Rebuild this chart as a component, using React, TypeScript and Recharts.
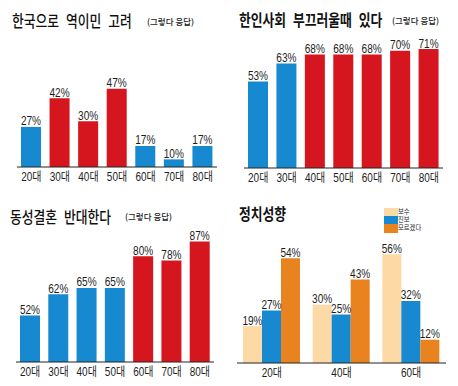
import React from 'react';
import { BarChart, Bar, XAxis, YAxis, Cell, LabelList } from 'recharts';

// ---- data ----
const ages = ['20대', '30대', '40대', '50대', '60대', '70대', '80대'];
const reverseMigration = [27, 42, 30, 47, 17, 10, 17];
const reverseMigrationHighlight = [false, true, true, true, false, false, false];
const ashamed = [53, 63, 68, 68, 68, 70, 71];
const ashamedHighlight = [false, false, true, true, true, true, true];
const sameSexOppose = [52, 62, 65, 65, 80, 78, 87];
const sameSexOpposeHighlight = [false, false, false, false, true, true, true];

const politicsAges = ['20대', '40대', '60대'];
const conservative = [19, 30, 56];
const progressive = [27, 25, 32];
const unsure = [54, 43, 12];

const titles = ['한국으로 역이민 고려', '한인사회 부끄러울때 있다', '동성결혼 반대한다', '정치성향'];
const subtitle = '(그렇다 응답)';
const legendNames = ['보수', '진보', '모르겠다'];

// ---- styles ----
const BLUE = '#1689d0';
const RED = '#d5161f';
const BEIGE = '#fdd9a6';
const ORANGE = '#e8831f';
const TEXT = '#1e1e1e';
const KFONT = '"Noto Sans CJK KR", "Noto Sans", sans-serif';
const NFONT = '"Liberation Sans", Arial, "Noto Sans CJK KR", sans-serif';

const W = 229;
const H = 193;

const AgeTick = (props: any) => {
  const { x, y, payload } = props;
  return (
    <g transform={`translate(${x},${y + 14}) scale(0.8,1)`}>
      <text x={0} y={0} textAnchor="middle" fontSize={12.5} fontFamily={NFONT} fill={TEXT}>
        {payload.value}
      </text>
    </g>
  );
};

const ValueLabel = (props: any) => {
  const { x, y, width, value } = props;
  const cx = Number(x) + Number(width) / 2;
  return (
    <g transform={`translate(${cx},${Number(y) - 1.5}) scale(0.84,1)`}>
      <text x={0} y={0} textAnchor="middle" fontSize={12} fontFamily={NFONT} fill={TEXT}>
        {`${value}%`}
      </text>
    </g>
  );
};

const simpleData = (vals: number[], hl: boolean[]) =>
  ages.map((age, i) => ({ age, value: vals[i], hl: hl[i] }));

const politicsData = politicsAges.map((age, i) => ({
  age,
  conservative: conservative[i],
  progressive: progressive[i],
  unsure: unsure[i],
}));

type SimpleProps = {
  vals: number[];
  hl: boolean[];
  margin: { top: number; right: number; bottom: number; left: number };
  domain: [number, number];
};

const SimpleChart = ({ vals, hl, margin, domain }: SimpleProps) => {
  const data = simpleData(vals, hl);
  return (
    <BarChart width={W} height={H} data={data} margin={margin} barSize={20}>
      <XAxis
        dataKey="age"
        interval={0}
        axisLine={{ stroke: '#222', strokeWidth: 1 }}
        tickLine={false}
        tickSize={0}
        tickMargin={0}
        height={20}
        tick={<AgeTick />}
      />
      <YAxis hide type="number" domain={domain} allowDataOverflow />
      <Bar dataKey="value" isAnimationActive={false}>
        {data.map((d, i) => (
          <Cell key={i} fill={d.hl ? RED : BLUE} />
        ))}
        <LabelList dataKey="value" content={<ValueLabel />} />
      </Bar>
    </BarChart>
  );
};

const Title = ({ text, left, top, weight }: { text: string; left: number; top: number; weight: number }) => (
  <div
    style={{
      position: 'absolute',
      left,
      top,
      fontFamily: KFONT,
      fontSize: 16,
      fontWeight: weight,
      lineHeight: '16px',
      color: '#111',
      whiteSpace: 'nowrap',
      wordSpacing: 5,
      transform: 'scaleX(0.8)',
      transformOrigin: 'left center',
    }}
  >
    {text}
  </div>
);

const Sub = ({ left, top }: { left: number; top: number }) => (
  <div
    style={{
      position: 'absolute',
      left,
      top,
      fontFamily: KFONT,
      fontSize: 8.5,
      fontWeight: 500,
      lineHeight: '9px',
      color: '#222',
      whiteSpace: 'nowrap',
    }}
  >
    {subtitle}
  </div>
);

export default function App() {
  const legendColors = [BEIGE, BLUE, ORANGE];
  return (
    <div
      style={{
        position: 'absolute',
        left: 0,
        top: 0,
        width: 458,
        height: 386,
        background: '#fff',
        overflow: 'hidden',
      }}
    >
      <div style={{ position: 'absolute', left: 0, top: 0 }}>
        <SimpleChart vals={reverseMigration} hl={reverseMigrationHighlight} margin={{ top: 60, right: 12, bottom: 6, left: 17 }} domain={[6, 62]} />
      </div>
      <div style={{ position: 'absolute', left: 229, top: 0 }}>
        <SimpleChart vals={ashamed} hl={ashamedHighlight} margin={{ top: 40, right: 15, bottom: 5, left: 15 }} domain={[5, 76]} />
      </div>
      <div style={{ position: 'absolute', left: 0, top: 193 }}>
        <SimpleChart vals={sameSexOppose} hl={sameSexOpposeHighlight} margin={{ top: 40, right: 15, bottom: 4, left: 16 }} domain={[30, 91]} />
      </div>
      <div style={{ position: 'absolute', left: 229, top: 193 }}>
        <BarChart width={W} height={H} data={politicsData} margin={{ top: 40, right: 12, bottom: 3, left: 8 }} barSize={19} barGap={0}>
          <XAxis
            dataKey="age"
            interval={0}
            axisLine={{ stroke: '#222', strokeWidth: 1 }}
            tickLine={false}
            tickSize={0}
            tickMargin={0}
            height={20}
            tick={<AgeTick />}
          />
          <YAxis hide type="number" domain={[0, 67]} allowDataOverflow />
          <Bar dataKey="conservative" fill={BEIGE} isAnimationActive={false}>
            <LabelList dataKey="conservative" content={<ValueLabel />} />
          </Bar>
          <Bar dataKey="progressive" fill={BLUE} isAnimationActive={false}>
            <LabelList dataKey="progressive" content={<ValueLabel />} />
          </Bar>
          <Bar dataKey="unsure" fill={ORANGE} isAnimationActive={false}>
            <LabelList dataKey="unsure" content={<ValueLabel />} />
          </Bar>
        </BarChart>
      </div>

      <Title text={titles[0]} left={12} top={12} weight={500} />
      <Sub left={147} top={17} />
      <Title text={titles[1]} left={239} top={11} weight={700} />
      <Sub left={392} top={16} />
      <Title text={titles[2]} left={10} top={208} weight={500} />
      <Sub left={125} top={212} />
      <Title text={titles[3]} left={239} top={205} weight={700} />

      {legendNames.map((name, i) => (
        <div key={name} style={{ position: 'absolute', left: 384, top: 208 + i * 8, height: 8 + (i === 2 ? 1 : 0) }}>
          <div style={{ position: 'absolute', left: 0, top: 0, width: 14, height: 8 + (i === 2 ? 1 : 0), background: legendColors[i] }} />
          <div
            style={{
              position: 'absolute',
              left: 14,
              top: 0,
              fontFamily: '"Liberation Sans", "Noto Sans CJK KR", sans-serif',
              fontSize: 7,
              lineHeight: '8px',
              color: '#222',
              whiteSpace: 'nowrap',
              transform: 'scaleX(0.9)',
              transformOrigin: 'left center',
            }}
          >
            {name}
          </div>
        </div>
      ))}
    </div>
  );
}
